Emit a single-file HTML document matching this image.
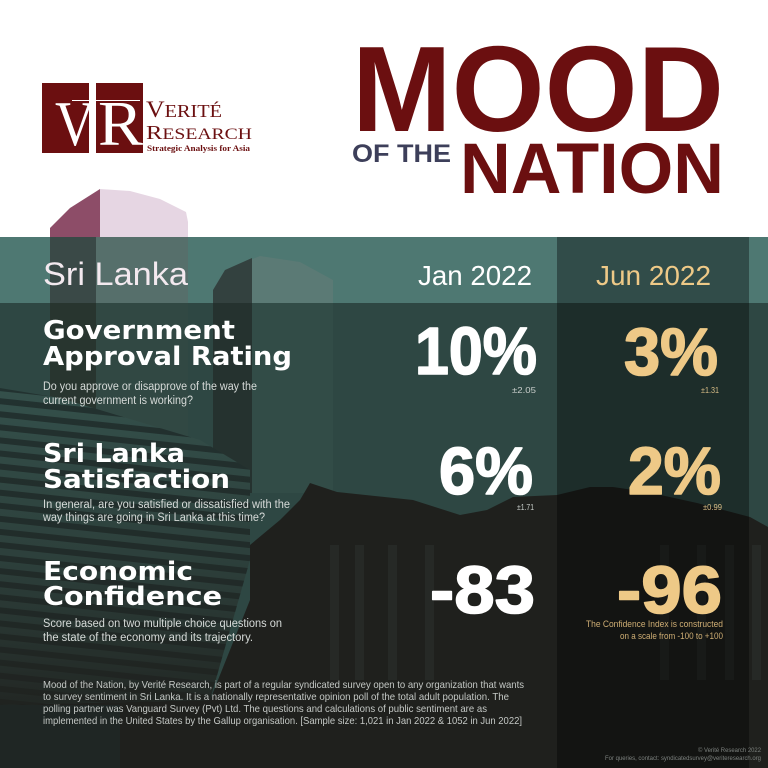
<!DOCTYPE html>
<html><head><meta charset="utf-8"><style>
html,body{margin:0;padding:0;background:#fff;}
svg{display:block;}
.t{font-family:"Liberation Sans",sans-serif;}
.h{font-family:"DejaVu Sans","Liberation Sans",sans-serif;font-weight:bold;fill:#fff;}
.n{font-family:"Liberation Sans",sans-serif;font-weight:bold;stroke-width:1.6;stroke-linejoin:round;}
.q{font-family:"Liberation Sans",sans-serif;font-size:11.5px;fill:#d6dad8;}
.f{font-family:"Liberation Sans",sans-serif;font-size:10.5px;fill:#c4c8c5;}
.s{font-family:"Liberation Serif",serif;}
</style></head><body>
<svg width="768" height="768" viewBox="0 0 768 768" xmlns="http://www.w3.org/2000/svg">
<defs>
<pattern id="stripes" x="0" y="0" width="60" height="13" patternUnits="userSpaceOnUse" patternTransform="rotate(6)">
<rect x="0" y="0" width="60" height="13" fill="#34504b"/>
<rect x="0" y="6" width="60" height="6" fill="#223230"/>
</pattern>
<linearGradient id="fade" x1="0" y1="0" x2="0" y2="1">
<stop offset="0" stop-color="#1f201d" stop-opacity="0"/>
<stop offset="0.55" stop-color="#1f201d" stop-opacity="0.35"/>
<stop offset="1" stop-color="#1f201d" stop-opacity="0.85"/>
</linearGradient>
</defs>
<rect x="0" y="0" width="768" height="768" fill="#fff"/>

<!-- building 1 peeking above band -->
<polygon points="50,237 50,228 70,208 100,189 100,237" fill="#8d4d68"/>
<polygon points="100,189 130,191 160,199 186,212 188,222 188,237 100,237" fill="#e6d6e3"/>

<!-- body base -->
<rect x="0" y="237" width="768" height="531" fill="#2e4743"/>
<!-- header band -->
<rect x="0" y="237" width="768" height="66" fill="#4e7872"/>
<!-- building 1 in band -->
<rect x="50" y="237" width="46" height="66" fill="#3a4947"/>
<rect x="96" y="237" width="92" height="66" fill="#566f6b"/>
<!-- building 2 in band -->
<polygon points="213,303 213,290 225,270 260,256 300,262 333,280 333,303" fill="#5b7a75"/>
<polygon points="213,303 213,290 225,270 252,258 252,303" fill="#33413f"/>

<!-- body buildings -->
<rect x="50" y="303" width="46" height="180" fill="#28352f"/>
<rect x="96" y="303" width="92" height="180" fill="#314843"/>
<rect x="213" y="303" width="39" height="190" fill="#25322f"/>
<rect x="252" y="303" width="81" height="190" fill="#324c47"/>

<!-- left striped tower -->
<polygon points="0,388 60,398 200,440 250,470 250,560 210,700 0,705" fill="url(#stripes)"/>
<polygon points="0,388 60,398 200,440 250,470 250,560 210,700 0,705" fill="url(#fade)"/>

<!-- dark building roofline -->
<polygon points="250,545 280,520 300,500 310,483 337,492 413,500 460,515 487,510 513,497 557,495 590,487 613,487 647,492 697,503 750,517 768,527 768,768 0,768 0,705 210,700 250,600" fill="#1f201d"/>
<!-- columns -->
<g fill="#262926">
<rect x="330" y="545" width="9" height="135"/>
<rect x="355" y="545" width="9" height="135"/>
<rect x="388" y="545" width="9" height="135"/>
<rect x="425" y="545" width="9" height="135"/>
<rect x="660" y="545" width="9" height="135"/>
<rect x="697" y="545" width="9" height="135"/>
<rect x="725" y="545" width="9" height="135"/>
<rect x="752" y="545" width="9" height="135"/>
</g>
<rect x="0" y="705" width="120" height="63" fill="#1f2624"/>

<!-- Jun column overlay -->
<rect x="557" y="237" width="192" height="531" fill="#000" fill-opacity="0.36"/>

<!-- LOGO -->
<rect x="42" y="83" width="47" height="70" fill="#6b0f10"/>
<rect x="96" y="83" width="47" height="70" fill="#6b0f10"/>
<text class="s" x="55" y="145" font-size="64" fill="#fff" textLength="40" lengthAdjust="spacingAndGlyphs">V</text>
<text class="s" x="98" y="145" font-size="64" fill="#fff" textLength="45" lengthAdjust="spacingAndGlyphs">R</text>
<rect x="72" y="100" width="68" height="1" fill="#fff"/>
<text class="s" x="146" y="117" fill="#6b0f10" textLength="76" lengthAdjust="spacingAndGlyphs"><tspan font-size="23">V</tspan><tspan font-size="18">ERITÉ</tspan></text>
<text class="s" x="146" y="139" fill="#6b0f10" textLength="106" lengthAdjust="spacingAndGlyphs"><tspan font-size="20">R</tspan><tspan font-size="16">ESEARCH</tspan></text>
<text class="s" x="147" y="151" font-size="8.5" font-weight="bold" fill="#6b0f10" textLength="103" lengthAdjust="spacingAndGlyphs">Strategic Analysis for Asia</text>

<!-- TITLE -->
<text class="t" x="352" y="131" font-size="122" font-weight="bold" fill="#6b0f10" textLength="372" lengthAdjust="spacingAndGlyphs">MOOD</text>
<text class="t" x="352" y="162" font-size="25" font-weight="bold" fill="#3d3f5a" textLength="99" lengthAdjust="spacingAndGlyphs">OF THE</text>
<text class="t" x="460" y="193" font-size="71" font-weight="bold" fill="#6b0f10" textLength="264" lengthAdjust="spacingAndGlyphs">NATION</text>

<!-- HEADER -->
<text class="t" x="43" y="285" font-size="32" fill="#f3e9ef" textLength="145" lengthAdjust="spacingAndGlyphs">Sri Lanka</text>
<text class="t" x="418" y="285" font-size="28" fill="#fff" textLength="114" lengthAdjust="spacingAndGlyphs">Jan 2022</text>
<text class="t" x="596" y="285" font-size="28" fill="#eec987" textLength="115" lengthAdjust="spacingAndGlyphs">Jun 2022</text>

<!-- ROW 1 -->
<text class="h" x="43" y="339" font-size="26" textLength="192" lengthAdjust="spacingAndGlyphs">Government</text>
<text class="h" x="43" y="365" font-size="26" textLength="249" lengthAdjust="spacingAndGlyphs">Approval Rating</text>
<text class="q" x="43" y="390" textLength="214" lengthAdjust="spacingAndGlyphs">Do you approve or disapprove of the way the</text>
<text class="q" x="43" y="404" textLength="150" lengthAdjust="spacingAndGlyphs">current government is working?</text>
<text class="n" x="415" y="374" font-size="67" fill="#fff" stroke="#fff" textLength="122" lengthAdjust="spacingAndGlyphs">10%</text>
<text class="t" x="512" y="393" font-size="8.5" fill="#c8cdca" textLength="24" lengthAdjust="spacingAndGlyphs">±2.05</text>
<text class="n" x="624" y="375" font-size="67" fill="#eec987" stroke="#eec987" textLength="94" lengthAdjust="spacingAndGlyphs">3%</text>
<text class="t" x="701" y="393" font-size="8.5" fill="#d8bd86" textLength="18" lengthAdjust="spacingAndGlyphs">±1.31</text>

<!-- ROW 2 -->
<text class="h" x="43" y="462" font-size="26" textLength="142" lengthAdjust="spacingAndGlyphs">Sri Lanka</text>
<text class="h" x="43" y="488" font-size="26" textLength="187" lengthAdjust="spacingAndGlyphs">Satisfaction</text>
<text class="q" x="43" y="508" textLength="247" lengthAdjust="spacingAndGlyphs">In general, are you satisfied or dissatisfied with the</text>
<text class="q" x="43" y="521" textLength="222" lengthAdjust="spacingAndGlyphs">way things are going in Sri Lanka at this time?</text>
<text class="n" x="439" y="494" font-size="67" fill="#fff" stroke="#fff" textLength="94" lengthAdjust="spacingAndGlyphs">6%</text>
<text class="t" x="517" y="510" font-size="8.5" fill="#c8cdca" textLength="17" lengthAdjust="spacingAndGlyphs">±1.71</text>
<text class="n" x="628" y="494" font-size="67" fill="#eec987" stroke="#eec987" textLength="93" lengthAdjust="spacingAndGlyphs">2%</text>
<text class="t" x="703" y="510" font-size="8.5" fill="#d8bd86" textLength="19" lengthAdjust="spacingAndGlyphs">±0.99</text>

<!-- ROW 3 -->
<text class="h" x="43" y="580" font-size="26" textLength="150" lengthAdjust="spacingAndGlyphs">Economic</text>
<text class="h" x="43" y="605" font-size="26" textLength="179" lengthAdjust="spacingAndGlyphs">Confidence</text>
<text class="q" x="43" y="627" textLength="239" lengthAdjust="spacingAndGlyphs">Score based on two multiple choice questions on</text>
<text class="q" x="43" y="641" textLength="210" lengthAdjust="spacingAndGlyphs">the state of the economy and its trajectory.</text>
<text class="n" x="430" y="613" font-size="67" fill="#fff" stroke="#fff" textLength="105" lengthAdjust="spacingAndGlyphs">-83</text>
<text class="n" x="617" y="613" font-size="67" fill="#eec987" stroke="#eec987" textLength="105" lengthAdjust="spacingAndGlyphs">-96</text>
<text class="t" x="586" y="627" font-size="9.5" fill="#cfae74" textLength="137" lengthAdjust="spacingAndGlyphs">The Confidence Index is constructed</text>
<text class="t" x="620" y="639" font-size="9.5" fill="#cfae74" textLength="103" lengthAdjust="spacingAndGlyphs">on a scale from -100 to +100</text>

<!-- FOOTER -->
<text class="f" x="43" y="688" textLength="481" lengthAdjust="spacingAndGlyphs">Mood of the Nation, by Verité Research, is part of a regular syndicated survey open to any organization that wants</text>
<text class="f" x="43" y="700" textLength="466" lengthAdjust="spacingAndGlyphs">to survey sentiment in Sri Lanka. It is a nationally representative opinion poll of the total adult population. The</text>
<text class="f" x="43" y="712" textLength="444" lengthAdjust="spacingAndGlyphs">polling partner was Vanguard Survey (Pvt) Ltd. The questions and calculations of public sentiment are as</text>
<text class="f" x="43" y="724" textLength="479" lengthAdjust="spacingAndGlyphs">implemented in the United States by the Gallup organisation. [Sample size: 1,021 in Jan 2022 &amp; 1052 in Jun 2022]</text>
<text class="t" x="698" y="752" font-size="6.5" fill="#7d827f" textLength="63" lengthAdjust="spacingAndGlyphs">© Verité Research 2022</text>
<text class="t" x="605" y="760" font-size="6.5" fill="#7d827f" textLength="156" lengthAdjust="spacingAndGlyphs">For queries, contact: syndicatedsurvey@veriteresearch.org</text>
</svg>
</body></html>
